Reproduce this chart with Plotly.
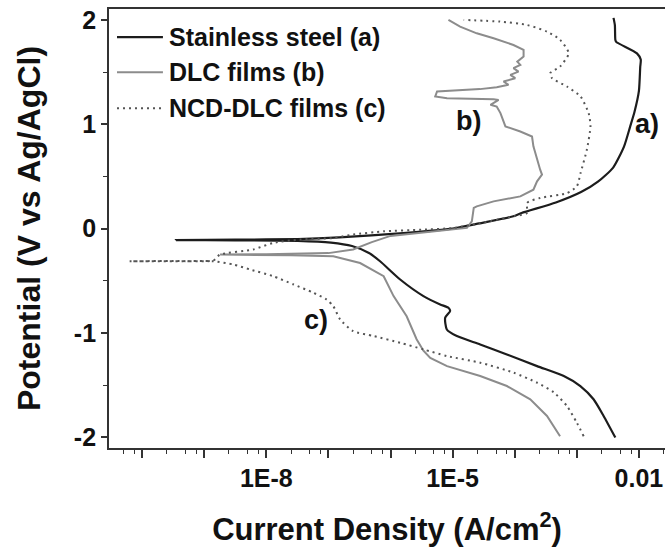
import math
import plotly.graph_objects as go

# ---- data (potential in V vs Ag/AgCl, current density in A/cm^2) ----
ss_potential = [-2.003, -1.796, -1.636, -1.509, -1.413, -1.318, -1.206, -1.11, -1.03, -0.967,
                -0.855, -0.79, -0.759, -0.727, -0.647, -0.488, -0.313, -0.234, -0.167, -0.134,
                -0.117, -0.112, -0.11, -0.106, -0.1, -0.084, -0.043, 0.0, 0.05, 0.118, 0.15,
                0.25, 0.35, 0.45, 0.585, 0.786, 0.98, 1.12, 1.32, 1.55, 1.62, 1.68, 1.79,
                1.81, 1.95, 2.02]
ss_current = [4.17e-3, 2.70e-3, 1.86e-3, 1.14e-3, 6.17e-4, 2.29e-4, 7.48e-5, 2.78e-5, 1.17e-5, 8.07e-6,
              7.59e-6, 9.12e-6, 8.57e-6, 6.31e-6, 3.39e-6, 1.43e-6, 6.79e-7, 4.5e-7, 2.4e-7, 1.1e-7,
              3.2e-8, 3.2e-9, 3.5e-10, 3.2e-9, 3.2e-8, 1.5e-7, 1.6e-6, 1.0e-5, 2.7e-5, 9.5e-5, 1.29e-4,
              4.6e-4, 1.17e-3, 2.19e-3, 3.85e-3, 5.75e-3, 7.24e-3, 8.5e-3, 1.0e-2, 1.05e-2, 1.07e-2, 9.3e-3, 4.3e-3,
              4.17e-3, 4.1e-3, 3.9e-3]

dlc_potential = [-1.99, -1.796, -1.636, -1.509, -1.413, -1.318, -1.24, -1.17, -1.06, -0.84,
                 -0.647, -0.456, -0.33, -0.265, -0.255, -0.25, -0.249, -0.245, -0.235, -0.2,
                 -0.13, -0.07, -0.04, -0.01, 0.007, 0.07, 0.198, 0.213, 0.261, 0.309, 0.373,
                 0.453, 0.517, 0.565, 0.66, 0.788, 0.883, 0.931, 0.98, 1.107, 1.17, 1.187,
                 1.234, 1.241, 1.25, 1.266, 1.314, 1.337, 1.356, 1.378, 1.41, 1.442, 1.474,
                 1.505, 1.538, 1.569, 1.60, 1.649, 1.713, 1.76, 1.825, 1.872, 1.936, 2.0]
dlc_current = [5.37e-4, 3.31e-4, 1.78e-4, 7.48e-5, 2.78e-5, 8.13e-6, 4.37e-6, 3.39e-6, 2.63e-6, 1.82e-6,
               1.12e-6, 7.76e-7, 3.24e-7, 1.2e-7, 2.5e-8, 5e-9, 1.8e-9, 1e-8, 1e-7, 2.5e-7,
               5e-7, 1e-6, 3.16e-6, 1e-5, 1.7e-5, 2.04e-5, 2.19e-5, 2.45e-5, 4.57e-5, 1.23e-4, 2.0e-4,
               2.29e-4, 2.75e-4, 2.57e-4, 2.29e-4, 2.0e-4, 1.9e-4, 1.23e-4, 7.08e-5, 5.89e-5, 5.13e-5, 4.07e-5,
               5.5e-5, 4.57e-5, 8.13e-6, 5.25e-6, 5.62e-6, 2.75e-5, 5.13e-5, 7.94e-5, 6.61e-5, 1.02e-4, 8.51e-5,
               1.15e-4, 9.55e-5, 1.23e-4, 1.1e-4, 1.39e-4, 1.39e-4, 9.55e-5, 4.57e-5, 2.45e-5, 1.32e-5, 8.57e-6]

ncd_potential = [-1.99, -1.86, -1.70, -1.57, -1.477, -1.38, -1.285, -1.222, -1.158, -1.094,
                 -1.03, -0.983, -0.871, -0.744, -0.68, -0.615, -0.536, -0.456, -0.392, -0.344,
                 -0.313, -0.313, -0.313, -0.31, -0.305, -0.25, -0.2, -0.137, -0.105, -0.09,
                 -0.057, -0.026, -0.01, 0.005, 0.05, 0.12, 0.15, 0.246, 0.294, 0.34, 0.405,
                 0.533, 0.756, 0.98, 1.107, 1.266, 1.362, 1.442, 1.49, 1.553, 1.68, 1.81,
                 1.888, 1.952, 1.984, 2.0]
ncd_current = [1.29e-3, 1.0e-3, 6.92e-4, 4.27e-4, 2.29e-4, 9.55e-5, 2.78e-5, 8.13e-6, 3.39e-6, 1.43e-6,
               5.37e-7, 2.51e-7, 1.55e-7, 1.2e-7, 9.33e-8, 5.75e-8, 2.75e-8, 1.29e-8, 5.5e-9, 2.95e-9,
               1.41e-9, 3.2e-10, 6.3e-11, 3.2e-10, 1.41e-9, 1.78e-9, 6.17e-9, 1.29e-8, 3.47e-8, 1.2e-7,
               2.51e-7, 7.76e-7, 3.16e-6, 1e-5, 2.7e-5, 1e-4, 1.58e-4, 1.58e-4, 2.57e-4, 6.92e-4, 1e-3,
               1.15e-3, 1.45e-3, 1.66e-3, 1.55e-3, 1.15e-3, 6.92e-4, 3.98e-4, 3.72e-4, 5.37e-4, 7.41e-4, 5.37e-4,
               3.31e-4, 1.58e-4, 5.89e-5, 1.51e-5]

series_names = ["Stainless steel (a)", "DLC films (b)", "NCD-DLC films (c)"]
x_tick_values = [1e-10, 1e-9, 1e-8, 1e-7, 1e-6, 1e-5, 1e-4, 1e-3, 1e-2]
x_tick_text = ["", "", "1E-8", "", "", "1E-5", "", "", "0.01"]
minor_tick_values = [m * d for d in [1e-11, 1e-10, 1e-9, 1e-8, 1e-7, 1e-6, 1e-5, 1e-4, 1e-3, 1e-2]
                     for m in (2.5, 5, 7.5)]
y_tick_values = [-2, -1, 0, 1, 2]
y_tick_text = ["-2", "-1", "0", "1", "2"]

# curve labels: (text, current, potential)
curve_labels = [("a)", 1.35e-2, 1.0), ("b)", 1.78e-5, 1.03), ("c)", 6.3e-8, -0.875)]

FONT = "Liberation Sans"
colors = ["#1c1c1c", "#8c8c8c", "#555555"]
widths = [2.2, 2.0, 2.0]
dashes = ["solid", "solid", "2px,4px"]

fig = go.Figure()
fig.add_trace(go.Scatter(x=ss_current, y=ss_potential, mode="lines", name=series_names[0],
                         line=dict(color=colors[0], width=widths[0], shape="spline", smoothing=0.6)))
fig.add_trace(go.Scatter(x=dlc_current, y=dlc_potential, mode="lines", name=series_names[1],
                         line=dict(color=colors[1], width=widths[1])))
fig.add_trace(go.Scatter(x=ncd_current, y=ncd_potential, mode="lines", name=series_names[2],
                         line=dict(color=colors[2], width=widths[2], dash=dashes[2],
                                   shape="spline", smoothing=0.6)))

for txt, xv, yv in curve_labels:
    fig.add_annotation(x=math.log10(xv), y=yv, xref="x", yref="y", text=txt, showarrow=False,
                       font=dict(family=FONT, size=27, color="#111", weight="bold"))

# legend (drawn in paper coordinates, top-left inside the frame)
legend_rows_y = [0.936, 0.856, 0.774]
for name, col, w, d, ly in zip(series_names, colors, widths, dashes, legend_rows_y):
    fig.add_shape(type="line", xref="paper", yref="paper", x0=0.0144, x1=0.097, y0=ly, y1=ly,
                  line=dict(color=col, width=w, dash=d))
    fig.add_annotation(x=0.104, y=ly, xref="paper", yref="paper", text=name, showarrow=False,
                       xanchor="left", yanchor="middle",
                       font=dict(family=FONT, size=25, color="#111", weight="bold"))

fig.update_layout(
    width=665, height=548,
    margin=dict(l=109, r=0, t=9, b=100),
    paper_bgcolor="white", plot_bgcolor="white",
    font=dict(family=FONT, color="#111"),
    showlegend=False,
    xaxis=dict(type="log", range=[-10.533, -1.58], automargin=False,
               tickvals=x_tick_values, ticktext=x_tick_text,
               ticks="outside", ticklen=8, tickwidth=1.5, tickcolor="#333",
               ticklabelstandoff=-1,
               minor=dict(tickvals=minor_tick_values, ticks="outside", ticklen=4,
                          tickwidth=1.2, tickcolor="#333", showgrid=False),
               showline=True, linecolor="#333", linewidth=1.8, mirror=True,
               showgrid=False, zeroline=False,
               tickfont=dict(family=FONT, size=25, color="#111", weight="bold"),
               title=dict(text="Current Density (A/cm<sup>2</sup>)", standoff=27,
                          font=dict(family=FONT, size=31, color="#111", weight="bold"))),
    yaxis=dict(range=[-2.103, 2.105], automargin=False,
               tickvals=y_tick_values, ticktext=y_tick_text,
               ticks="outside", ticklen=6, tickwidth=1.5, tickcolor="#333",
               minor=dict(dtick=0.5, ticks="outside", ticklen=4, tickwidth=1.2,
                          tickcolor="#333", showgrid=False),
               showline=True, linecolor="#333", linewidth=1.8, mirror=False,
               showgrid=False, zeroline=False,
               tickfont=dict(family=FONT, size=25, color="#111", weight="bold"),
               title=dict(text="Potential (V vs Ag/AgCl)", standoff=24,
                          font=dict(family=FONT, size=32, color="#111", weight="bold"))),
)

fig.write_html("out.html", config={"displayModeBar": False},
               post_script="document.body.style.margin='0';")
